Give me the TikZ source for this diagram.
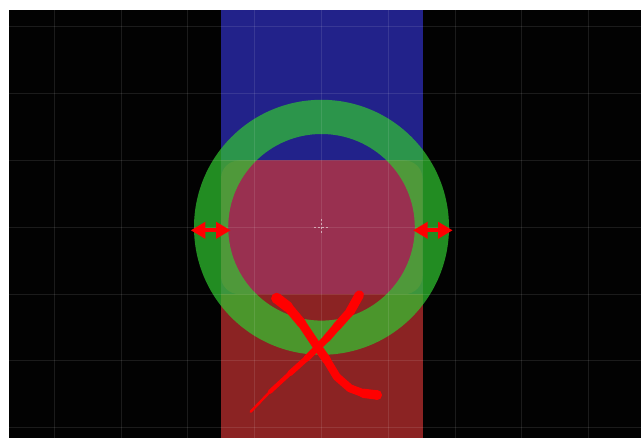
\documentclass[tikz,border=0pt]{standalone}
\usetikzlibrary{arrows.meta}
\definecolor{bgblack}{RGB}{2,2,2}
\definecolor{rblue}{RGB}{34,34,138}
\definecolor{rred}{RGB}{139,35,35}
\definecolor{rmid}{RGB}{87,34,90}
\definecolor{rpink}{RGB}{153,48,80}
\definecolor{ringgreen}{RGB}{49,199,49}
\definecolor{xred}{RGB}{255,0,0}
\tikzset{
  gridline/.style={white, opacity=0.1, line width=0.75pt},
  ringfill/.style={fill=ringgreen, fill opacity=0.7, even odd rule},
  dblarrow/.style={xred, line width=3pt, {Triangle[length=11pt,width=12pt]}-{Triangle[length=11pt,width=12pt]}},
  xstroke/.style={xred, line cap=round, line join=round},
  crossline/.style={white, opacity=0.55, line width=0.75pt, dash pattern=on 1.5pt off 1.5pt}
}
\begin{document}
\begin{tikzpicture}[x=0.75pt, y=-0.75pt]
\useasboundingbox (0,0) rectangle (641,438);
\fill[white] (0,0) rectangle (641,438);
\fill[bgblack] (9,10) rectangle (641,438);
% rectangles
\fill[rblue] (221,10) rectangle (422.5,160.5);
\fill[rred] (221,294.1) rectangle (422.5,438);
\fill[rmid] (221,160.5) rectangle (422.5,294.1);
\fill[rpink, rounded corners=13.5pt] (221,160.5) rectangle (422.5,294.1);
% ring
\coordinate (c) at (321.5,227.3);
\fill[ringfill] (c) circle[radius=127.5] (c) circle[radius=93.3];
% grid
\foreach \gx in {54.3,121.1,187.9,254.7,321.5,388.3,455.1,521.9,588.7}
  \draw[gridline] (\gx,10) -- (\gx,438);
\foreach \gy in {26.9,93.7,160.5,227.3,294.1,360.9,427.7}
  \draw[gridline] (9,\gy) -- (641,\gy);
% crosshair
\coordinate (ch1) at (313.5,227.3);
\coordinate (ch2) at (329.5,227.3);
\coordinate (cv1) at (321.5,219.3);
\coordinate (cv2) at (321.5,235.3);
\draw[crossline] (ch1) -- (ch2);
\draw[crossline] (cv1) -- (cv2);
% arrows
\coordinate (la) at (190.7,230.3);
\coordinate (lb) at (230.7,230.3);
\coordinate (ra) at (413,230.3);
\coordinate (rb) at (452.7,230.3);
\draw[dblarrow] (la) -- (lb);
\draw[dblarrow] (ra) -- (rb);
% X stroke 1
\coordinate (p1) at (276.7,298.3);
\coordinate (p2) at (288,307);
\coordinate (p3) at (301.7,323.3);
\coordinate (p4) at (315,343.3);
\coordinate (p5) at (326.7,360);
\coordinate (p6) at (336.7,376.7);
\coordinate (p7) at (350,388.3);
\coordinate (p8) at (363.3,393.3);
\coordinate (p9) at (377,395);
\draw[xstroke, line width=8pt] (p1) -- (p2);
\draw[xstroke, line width=7pt] (p2) -- (p3);
\draw[xstroke, line width=6.5pt] (p3) -- (p4) -- (p5);
\draw[xstroke, line width=6pt] (p5) -- (p6) -- (p7) -- (p8);
\draw[xstroke, line width=7pt] (p8) -- (p9);
\fill[xred] (p9) circle[radius=5];
\fill[xred] (p1) circle[radius=5.5];
% X stroke 2
\coordinate (q1) at (359.3,295);
\coordinate (q2) at (350,311.7);
\coordinate (q3) at (336.7,326.7);
\coordinate (q4) at (326.7,338.3);
\coordinate (q5) at (316.7,348.3);
\coordinate (q6) at (306.7,358.3);
\coordinate (q7) at (290,373.3);
\coordinate (q8) at (270,391.7);
\coordinate (q9) at (250.7,411.7);
\draw[xstroke, line width=7pt] (q1) -- (q2);
\draw[xstroke, line width=6.5pt] (q2) -- (q3);
\draw[xstroke, line width=6pt] (q3) -- (q4);
\draw[xstroke, line width=5.5pt] (q4) -- (q5);
\draw[xstroke, line width=5pt] (q5) -- (q6);
\draw[xstroke, line width=4.2pt] (q6) -- (q7);
\draw[xstroke, line width=3.2pt] (q7) -- (q8);
\draw[xstroke, line width=1.8pt] (q8) -- (q9);
\end{tikzpicture}
\end{document}
